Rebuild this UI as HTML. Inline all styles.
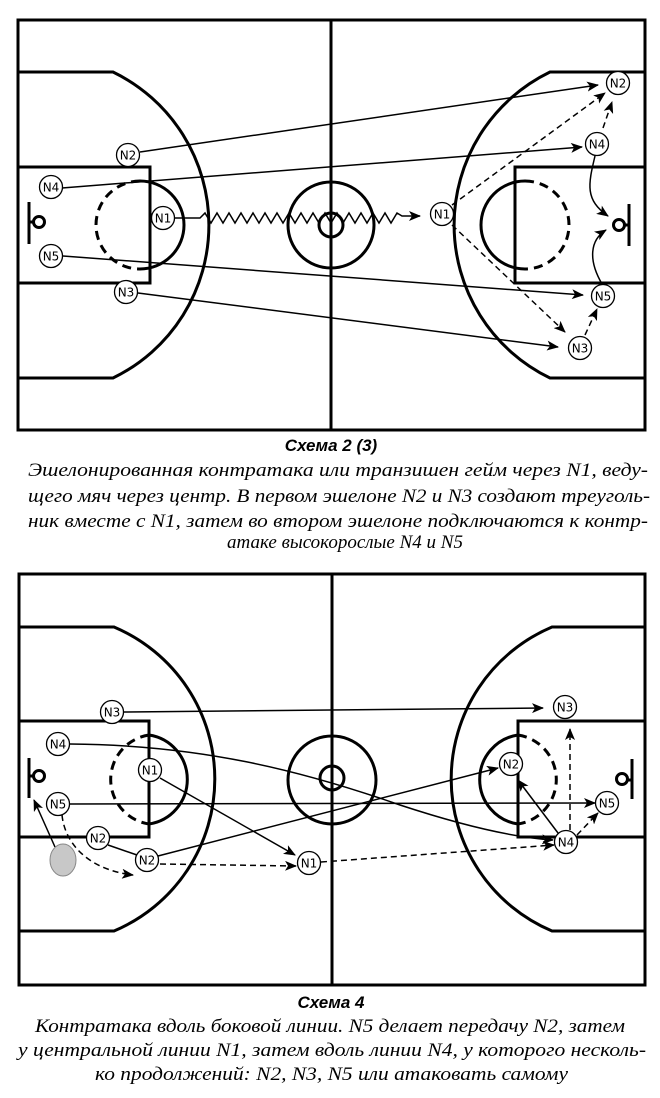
<!DOCTYPE html>
<html><head><meta charset="utf-8"><style>
html,body{margin:0;padding:0;background:#fff;}
svg{display:block;}
.c{fill:none;stroke:#000;stroke-width:3;}
.t{fill:none;stroke:#000;stroke-width:1.5;}
.d{fill:none;stroke:#000;stroke-width:1.5;stroke-dasharray:6 4;}
.p{fill:#fff;stroke:#000;stroke-width:1.3;}
.pl{font-family:"DejaVu Sans","Liberation Sans",sans-serif;font-size:12px;text-anchor:middle;}
.cap{font-family:"Liberation Serif","Noto Serif CJK SC",serif;font-style:italic;font-size:19px;}
.ttl{font-family:"Liberation Sans",sans-serif;font-style:italic;font-weight:bold;font-size:17px;text-anchor:middle;}
</style></head><body>
<svg width="660" height="1098" viewBox="0 0 660 1098" xmlns="http://www.w3.org/2000/svg">
<defs>
<marker id="a" viewBox="0 0 12 10" refX="11" refY="5" markerWidth="12" markerHeight="10" markerUnits="userSpaceOnUse" orient="auto">
<path d="M0,0 L12,5 L0,10 L3,5 z" fill="#000"/></marker>
</defs>

<rect x="18" y="20" width="627" height="410" class="c"/>
<line x1="331" y1="20" x2="331" y2="430" class="c"/>
<path d="M18,72 H113 A170,170 0 0 1 113,378 H18" class="c"/>
<path d="M645,72 H550 A170,170 0 0 0 550,378 H645" class="c"/>
<path d="M18,167 H150 V283 H18" class="c"/>
<path d="M645,167 H515 V283 H645" class="c"/>
<path d="M140,181 A44,44 0 0 1 140,269" class="c"/>
<path d="M140,181 A44,44 0 0 0 140,269" class="c" stroke-dasharray="9 6"/>
<path d="M525,181 A44,44 0 0 0 525,269" class="c"/>
<path d="M525,181 A44,44 0 0 1 525,269" class="c" stroke-dasharray="9 6"/>
<circle cx="331" cy="225" r="43" class="c"/>
<circle cx="331" cy="225" r="12" class="c"/>
<line x1="29" y1="202" x2="29" y2="244" class="c"/><line x1="29" y1="222" x2="33" y2="222" class="c"/><circle cx="39" cy="222" r="5.5" class="c"/>
<line x1="629" y1="204" x2="629" y2="246" class="c"/><line x1="629" y1="225" x2="625" y2="225" class="c"/><circle cx="619" cy="225" r="5.5" class="c"/>

<line x1="140" y1="152" x2="598" y2="85" class="t" marker-end="url(#a)"/>
<line x1="62" y1="188" x2="582" y2="147" class="t" marker-end="url(#a)"/>
<line x1="63" y1="256" x2="583" y2="295" class="t" marker-end="url(#a)"/>
<line x1="138" y1="293" x2="558" y2="347" class="t" marker-end="url(#a)"/>
<polyline class="t" points="175,218 200,218 205,213 211,223 217,213 223,223 229,213 235,223 241,213 247,223 253,213 259,223 265,213 271,223 277,213 283,223 289,213 295,223 301,213 307,223 313,213 319,223 325,213 331,223 337,213 343,223 349,213 355,223 361,213 367,223 373,213 379,223 385,213 391,223 397,213 402,216 420,216" marker-end="url(#a)"/>
<line x1="452" y1="205" x2="605" y2="93" class="d" marker-end="url(#a)"/>
<line x1="452" y1="225" x2="565" y2="332" class="d" marker-end="url(#a)"/>
<line x1="603" y1="128" x2="612" y2="102" class="d" marker-end="url(#a)"/>
<line x1="585" y1="335" x2="597" y2="309" class="d" marker-end="url(#a)"/>
<path d="M595,156 C588,185 585,200 608,216" class="t" marker-end="url(#a)"/>
<path d="M602,284 C588,260 590,240 606,230" class="t" marker-end="url(#a)"/>

<g>
<circle cx="128" cy="155" r="11.5" class="p"/><text x="128" y="159.5" class="pl">N2</text>
<circle cx="51" cy="187" r="11.5" class="p"/><text x="51" y="191.5" class="pl">N4</text>
<circle cx="163" cy="218" r="11.5" class="p"/><text x="163" y="222.5" class="pl">N1</text>
<circle cx="51" cy="256" r="11.5" class="p"/><text x="51" y="260.5" class="pl">N5</text>
<circle cx="126" cy="292" r="11.5" class="p"/><text x="126" y="296.5" class="pl">N3</text>
<circle cx="618" cy="83" r="11.5" class="p"/><text x="618" y="87.5" class="pl">N2</text>
<circle cx="597" cy="144" r="11.5" class="p"/><text x="597" y="148.5" class="pl">N4</text>
<circle cx="442" cy="214" r="11.5" class="p"/><text x="442" y="218.5" class="pl">N1</text>
<circle cx="603" cy="296" r="11.5" class="p"/><text x="603" y="300.5" class="pl">N5</text>
<circle cx="580" cy="348" r="11.5" class="p"/><text x="580" y="352.5" class="pl">N3</text>
</g>

<text x="331" y="451" class="ttl">Схема 2 (3)</text>
<text x="28" y="476" class="cap" textLength="620" lengthAdjust="spacingAndGlyphs">Эшелонированная контратака или транзишен гейм через N1, веду-</text>
<text x="28" y="502" class="cap" textLength="622" lengthAdjust="spacingAndGlyphs">щего мяч через центр. В первом эшелоне N2 и N3 создают треуголь-</text>
<text x="28" y="527" class="cap" textLength="620" lengthAdjust="spacingAndGlyphs">ник вместе с N1, затем во втором эшелоне подключаются к контр-</text>
<text x="345" y="548" class="cap" text-anchor="middle">атаке высокорослые N4 и N5</text>

<rect x="19" y="574" width="626" height="411" class="c"/>
<line x1="332" y1="574" x2="332" y2="985" class="c"/>
<path d="M19,627 H114 A165,165 0 0 1 114,931 H19" class="c"/>
<path d="M645,627 H552 A165,165 0 0 0 552,931 H645" class="c"/>
<path d="M19,721 H149 V837 H19" class="c"/>
<path d="M645,721 H518 V837 H645" class="c"/>
<path d="M149,735 A45,45 0 0 1 149,824" class="c"/>
<path d="M149,735 A45,45 0 0 0 149,824" class="c" stroke-dasharray="9 6"/>
<path d="M518,735 A45,45 0 0 0 518,824" class="c"/>
<path d="M518,735 A45,45 0 0 1 518,824" class="c" stroke-dasharray="9 6"/>
<circle cx="332" cy="780" r="44" class="c"/>
<circle cx="332" cy="778" r="12" class="c"/>
<line x1="29" y1="758" x2="29" y2="798" class="c"/><line x1="29" y1="776" x2="33" y2="776" class="c"/><circle cx="39" cy="776" r="5.5" class="c"/>
<line x1="632" y1="759" x2="632" y2="799" class="c"/><line x1="632" y1="780" x2="628" y2="780" class="c"/><circle cx="622" cy="779" r="5.5" class="c"/>

<line x1="124" y1="712" x2="543" y2="708" class="t" marker-end="url(#a)"/>
<path d="M70,744 C200,745 300,770 400,805 C470,828 520,838 553,840" class="t" stroke-width="2" marker-end="url(#a)"/>
<line x1="160" y1="778" x2="295" y2="855" class="t" marker-end="url(#a)"/>
<line x1="70" y1="804" x2="595" y2="803" class="t" marker-end="url(#a)"/>
<line x1="108" y1="845" x2="137" y2="855" class="t"/>
<line x1="158" y1="856" x2="498" y2="768" class="t" stroke-width="2" marker-end="url(#a)"/>
<line x1="160" y1="864" x2="296" y2="866" class="d" marker-end="url(#a)"/>
<line x1="321" y1="862" x2="554" y2="845" class="d" stroke-width="2" marker-end="url(#a)"/>
<line x1="55" y1="847" x2="34" y2="800" class="t" marker-end="url(#a)"/>
<path d="M62,815 C65,845 90,870 133,875" class="d" marker-end="url(#a)"/>
<line x1="570" y1="830" x2="570" y2="729" class="d" marker-end="url(#a)"/>
<line x1="558" y1="833" x2="518" y2="780" class="t" stroke-width="1" marker-end="url(#a)"/>
<line x1="577" y1="835" x2="598" y2="813" class="d" marker-end="url(#a)"/>

<ellipse cx="63" cy="860" rx="13" ry="16" fill="#c8c8c8" stroke="#888" stroke-width="1"/>
<g>
<circle cx="112" cy="712" r="11.5" class="p"/><text x="112" y="716.5" class="pl">N3</text>
<circle cx="58" cy="744" r="11.5" class="p"/><text x="58" y="748.5" class="pl">N4</text>
<circle cx="150" cy="770" r="11.5" class="p"/><text x="150" y="774.5" class="pl">N1</text>
<circle cx="58" cy="804" r="11.5" class="p"/><text x="58" y="808.5" class="pl">N5</text>
<circle cx="98" cy="838" r="11.5" class="p"/><text x="98" y="842.5" class="pl">N2</text>
<circle cx="147" cy="860" r="11.5" class="p"/><text x="147" y="864.5" class="pl">N2</text>
<circle cx="309" cy="863" r="11.5" class="p"/><text x="309" y="867.5" class="pl">N1</text>
<circle cx="565" cy="707" r="11.5" class="p"/><text x="565" y="711.5" class="pl">N3</text>
<circle cx="511" cy="764" r="11.5" class="p"/><text x="511" y="768.5" class="pl">N2</text>
<circle cx="607" cy="803" r="11.5" class="p"/><text x="607" y="807.5" class="pl">N5</text>
<circle cx="566" cy="842" r="11.5" class="p"/><text x="566" y="846.5" class="pl">N4</text>
</g>

<text x="331" y="1008" class="ttl">Схема 4</text>
<text x="35" y="1032" class="cap" textLength="590" lengthAdjust="spacingAndGlyphs">Контратака вдоль боковой линии. N5 делает передачу N2, затем</text>
<text x="18" y="1056" class="cap" textLength="628" lengthAdjust="spacingAndGlyphs">у центральной линии N1, затем вдоль линии N4, у которого несколь-</text>
<text x="95" y="1080" class="cap" textLength="473" lengthAdjust="spacingAndGlyphs">ко продолжений: N2, N3, N5 или атаковать самому</text>
</svg>
</body></html>
